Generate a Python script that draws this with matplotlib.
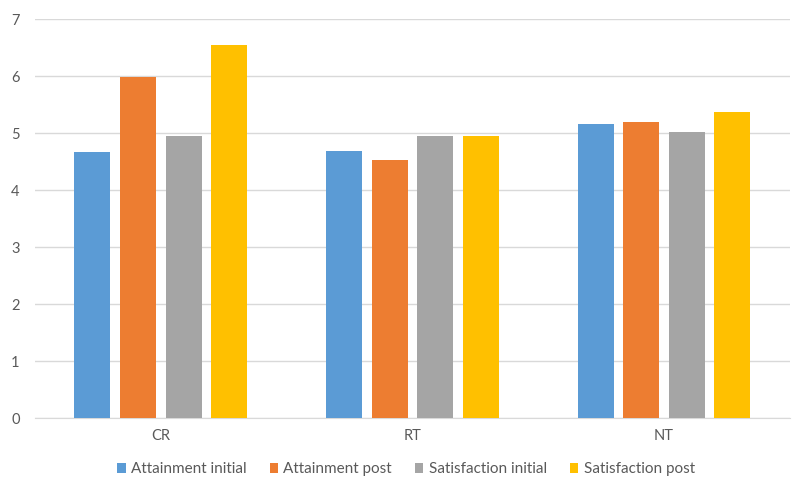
import matplotlib
matplotlib.use("Agg")
import matplotlib.pyplot as plt
import numpy as np

plt.rcParams['font.family'] = ['Lato', 'DejaVu Sans']

categories = ["CR", "RT", "NT"]
series_names = ["Attainment initial", "Attainment post", "Satisfaction initial", "Satisfaction post"]
attainment_initial = [4.67, 4.69, 5.16]
attainment_post = [5.99, 4.52, 5.19]
satisfaction_initial = [4.95, 4.95, 5.02]
satisfaction_post = [6.55, 4.94, 5.37]
series = [attainment_initial, attainment_post, satisfaction_initial, satisfaction_post]
colors = ["#5B9BD5", "#ED7D31", "#A5A5A5", "#FFC000"]
yticks = [0, 1, 2, 3, 4, 5, 6, 7]

fig = plt.figure(figsize=(8.04, 4.88), dpi=100)
ax = fig.add_axes([0.0435, 0.1434, 0.939, 0.8176])

x = np.arange(len(categories))
width = 0.143
step = 0.181
for i, (name, vals, c) in enumerate(zip(series_names, series, colors)):
    ax.bar(x + (i - 1.5) * step, vals, width=width, color=c, label=name, zorder=3)

ax.set_xlim(-0.5, 2.5)
ax.set_ylim(0, 7)
ax.set_yticks(yticks)
ax.set_xticks(x)
ax.set_xticklabels(categories)
ax.grid(axis='y', color='#D9D9D9', linewidth=1, zorder=0)
for s in ['top', 'right', 'left']:
    ax.spines[s].set_visible(False)
ax.spines['bottom'].set_color('#D9D9D9')
ax.tick_params(axis='both', length=0, colors='#595959', labelsize=10.5)
ax.tick_params(axis='y', pad=11)
ax.tick_params(axis='x', pad=8)

leg = fig.legend(loc='center', bbox_to_anchor=(0.505, 0.038), ncol=4, frameon=False,
                 handlelength=0.55, handleheight=0.55, handletextpad=0.35, columnspacing=1.5,
                 fontsize=11)
for t in leg.get_texts():
    t.set_color('#595959')

fig.savefig("out.png", dpi=100, facecolor='white')
